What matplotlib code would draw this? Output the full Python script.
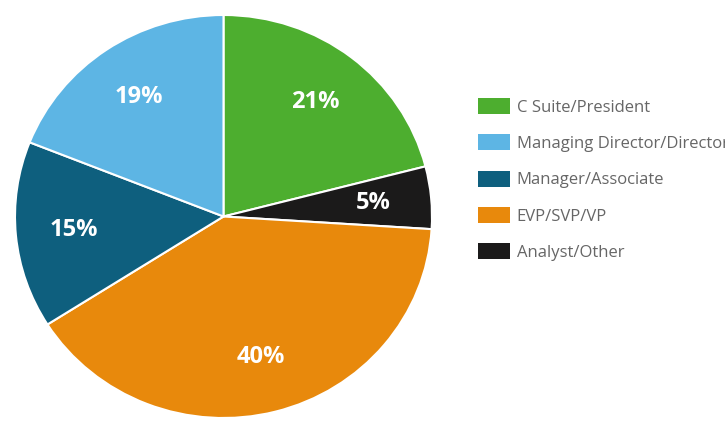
import matplotlib.pyplot as plt

# data
labels = ["C Suite/President", "Analyst/Other", "EVP/SVP/VP", "Manager/Associate", "Managing Director/Director"]
values = [21, 5, 40, 15, 19]
colors = ["#4DAE2F", "#1B1A1A", "#E8890C", "#0E5F7E", "#5DB5E4"]
legend_order = ["C Suite/President", "Managing Director/Director", "Manager/Associate", "EVP/SVP/VP", "Analyst/Other"]

W, H = 725, 422
fig = plt.figure(figsize=(W / 100, H / 100), dpi=100)

# pie box in pixels: left 15, right 432, top 15, bottom 418
left, right, top, bottom = 15, 432, 15, 418
ax = fig.add_axes([left / W, (H - bottom) / H, (right - left) / W, (bottom - top) / H])
wedges, texts, autotexts = ax.pie(
    values, colors=colors, startangle=90, counterclock=False,
    autopct="%d%%", pctdistance=0.72, radius=1,
    wedgeprops=dict(edgecolor="white", linewidth=1.5),
    textprops=dict(color="white", fontsize=17, fontweight="bold", family="Open Sans"),
)
ax.set_xlim(-1, 1)
ax.set_ylim(-1, 1)
ax.set_aspect("auto")
ax.axis("off")

# legend (the long label runs off the right edge, as in the original)
handles = [wedges[labels.index(l)] for l in legend_order]
leg = fig.legend(
    handles, legend_order, loc="upper left",
    bbox_to_anchor=(478 / W, (H - 98) / H),
    frameon=False, handlelength=1.9, handleheight=1.1,
    handletextpad=0.42, labelspacing=1.12, borderaxespad=0, borderpad=0,
    prop=dict(family="Open Sans", size=12),
)
for t in leg.get_texts():
    t.set_color("#666666")
for p in leg.get_patches():
    p.set_edgecolor("none")

fig.savefig("out.png", dpi=100)
